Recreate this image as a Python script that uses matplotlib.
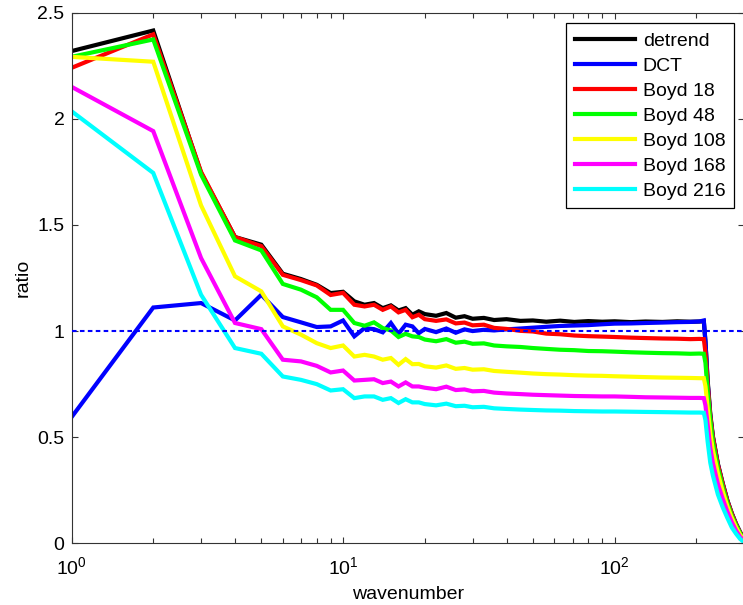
import matplotlib
matplotlib.use("Agg")
import matplotlib.pyplot as plt

plt.rcParams['font.family'] = ['Liberation Sans', 'DejaVu Sans']
plt.rcParams['mathtext.fontset'] = 'custom'
plt.rcParams['mathtext.rm'] = 'Liberation Sans'

wavenumber = [1, 2, 3, 4, 5, 6, 7, 8, 9, 10, 11, 12, 13, 14, 15, 16, 17, 18, 19, 20,
              22, 24, 26, 28, 30, 33, 36, 40, 45, 50, 56, 63, 71, 80, 90, 100, 115, 130,
              150, 170, 190, 205, 213,
              216, 220, 225, 230, 240, 250, 260, 270, 280, 290, 300]

detrend = [2.319, 2.416, 1.745, 1.443, 1.407, 1.270, 1.245, 1.218, 1.179, 1.185,
           1.140, 1.124, 1.132, 1.108, 1.121, 1.097, 1.108, 1.077, 1.093, 1.080,
           1.072, 1.085, 1.063, 1.070, 1.058, 1.062, 1.052, 1.056, 1.048, 1.050,
           1.044, 1.049, 1.043, 1.047, 1.044, 1.046, 1.042, 1.045, 1.043, 1.046,
           1.044, 1.045, 1.046,
           0.95, 0.77, 0.61, 0.505, 0.375, 0.283, 0.203, 0.142, 0.092, 0.052, 0.022]

dct = [0.594, 1.111, 1.132, 1.050, 1.171, 1.066, 1.041, 1.019, 1.022, 1.050,
       0.975, 1.014, 1.009, 0.994, 1.038, 0.987, 1.030, 1.022, 0.990, 1.010,
       0.995, 1.012, 0.992, 1.008, 1.000, 1.006, 1.003, 1.008, 1.012, 1.016,
       1.020, 1.024, 1.026, 1.028, 1.032, 1.035, 1.036, 1.038, 1.040, 1.042,
       1.043, 1.045, 1.050,
       0.95, 0.76, 0.60, 0.50, 0.37, 0.28, 0.20, 0.14, 0.09, 0.05, 0.02]

boyd18 = [2.240, 2.398, 1.750, 1.443, 1.400, 1.265, 1.240, 1.215, 1.170, 1.180,
          1.124, 1.116, 1.124, 1.100, 1.116, 1.088, 1.100, 1.065, 1.077, 1.056,
          1.048, 1.055, 1.036, 1.040, 1.027, 1.030, 1.015, 1.010, 1.001, 0.998,
          0.988, 0.985, 0.979, 0.976, 0.974, 0.972, 0.969, 0.967, 0.965, 0.964,
          0.962, 0.963, 0.962,
          0.90, 0.75, 0.60, 0.50, 0.37, 0.28, 0.20, 0.14, 0.09, 0.05, 0.02]

boyd48 = [2.292, 2.374, 1.737, 1.427, 1.380, 1.222, 1.195, 1.159, 1.100, 1.100,
          1.038, 1.025, 1.041, 1.014, 1.003, 0.972, 0.987, 0.975, 0.972, 0.960,
          0.952, 0.962, 0.945, 0.950, 0.940, 0.942, 0.932, 0.928, 0.925, 0.920,
          0.916, 0.912, 0.910, 0.906, 0.905, 0.903, 0.900, 0.898, 0.896, 0.895,
          0.893, 0.894, 0.893,
          0.85, 0.72, 0.58, 0.48, 0.355, 0.265, 0.19, 0.13, 0.085, 0.047, 0.018]

boyd108 = [2.292, 2.269, 1.592, 1.258, 1.187, 1.022, 0.983, 0.943, 0.920, 0.932,
           0.880, 0.888, 0.880, 0.865, 0.873, 0.841, 0.868, 0.844, 0.845, 0.834,
           0.828, 0.838, 0.822, 0.826, 0.818, 0.820, 0.812, 0.808, 0.804, 0.800,
           0.797, 0.795, 0.792, 0.790, 0.789, 0.787, 0.785, 0.783, 0.781, 0.780,
           0.779, 0.778, 0.778,
           0.74, 0.64, 0.52, 0.44, 0.33, 0.245, 0.175, 0.12, 0.075, 0.04, 0.015]

boyd168 = [2.151, 1.942, 1.344, 1.038, 1.009, 0.865, 0.857, 0.836, 0.805, 0.814,
           0.767, 0.770, 0.773, 0.755, 0.762, 0.739, 0.758, 0.739, 0.739, 0.733,
           0.726, 0.738, 0.722, 0.725, 0.716, 0.718, 0.710, 0.706, 0.703, 0.700,
           0.698, 0.696, 0.694, 0.693, 0.692, 0.692, 0.690, 0.688, 0.687, 0.686,
           0.685, 0.685, 0.684,
           0.65, 0.56, 0.45, 0.38, 0.28, 0.21, 0.15, 0.10, 0.06, 0.03, 0.01]

boyd216 = [2.036, 1.745, 1.171, 0.920, 0.893, 0.786, 0.770, 0.750, 0.720, 0.726,
           0.684, 0.692, 0.692, 0.676, 0.684, 0.661, 0.679, 0.664, 0.664, 0.656,
           0.650, 0.658, 0.646, 0.648, 0.641, 0.643, 0.636, 0.633, 0.630, 0.628,
           0.626, 0.625, 0.623, 0.622, 0.621, 0.621, 0.620, 0.619, 0.618, 0.617,
           0.616, 0.616, 0.615,
           0.58, 0.48, 0.38, 0.32, 0.23, 0.17, 0.12, 0.075, 0.045, 0.02, 0.005]

series = [("detrend", detrend, "#000000"),
          ("DCT", dct, "#0000ff"),
          ("Boyd 18", boyd18, "#ff0000"),
          ("Boyd 48", boyd48, "#00ff00"),
          ("Boyd 108", boyd108, "#ffff00"),
          ("Boyd 168", boyd168, "#ff00ff"),
          ("Boyd 216", boyd216, "#00ffff")]

x_limits = [1, 300]
reference_level = 1.0
y_ticks = [0, 0.5, 1, 1.5, 2, 2.5]
y_tick_labels = ["0", "0.5", "1", "1.5", "2", "2.5"]

W, H = 743, 605
fig = plt.figure(figsize=(W / 100, H / 100), dpi=100)
ax = fig.add_axes([71.5 / W, 1 - 543.3 / H, (744.2 - 71.5) / W, (543.3 - 12.7) / H])

for label, vals, col in series:
    ax.plot(wavenumber, vals, color=col, lw=3.0, label=label, solid_joinstyle='miter')

ax.plot(x_limits, [reference_level, reference_level], color="#0000ff", lw=1.5,
        linestyle=(0, (2.2, 1.6)), zorder=5)

ax.set_xscale('log')
ax.set_xlim(x_limits)
ax.set_ylim(0, 2.5)
ax.set_yticks(y_ticks)
ax.set_yticklabels(y_tick_labels)
ax.minorticks_on()
ax.yaxis.set_minor_locator(matplotlib.ticker.NullLocator())

ax.tick_params(which='both', direction='in', top=True, right=True, labelsize=14,
               color='#333333', width=0.8)
ax.tick_params(which='major', length=4.5)
ax.tick_params(axis='y', which='major', pad=5)
ax.tick_params(axis='x', which='major', pad=9)
ax.tick_params(which='minor', length=3.5)
for s in ax.spines.values():
    s.set_color('#333333')
    s.set_linewidth(0.8)

ax.set_xlabel("wavenumber", fontsize=14, labelpad=6)
ax.set_ylabel("ratio", fontsize=14, labelpad=4)

leg = ax.legend(loc='upper right', bbox_to_anchor=(734 / W, 1 - 23.3 / H),
                bbox_transform=fig.transFigure, borderaxespad=0, fontsize=14,
                handlelength=3.1, handletextpad=0.4, labelspacing=0.38,
                borderpad=0.45, fancybox=False, framealpha=1)
leg.get_frame().set_edgecolor('#000000')
leg.get_frame().set_linewidth(0.9)

fig.savefig("out.png", dpi=100)
